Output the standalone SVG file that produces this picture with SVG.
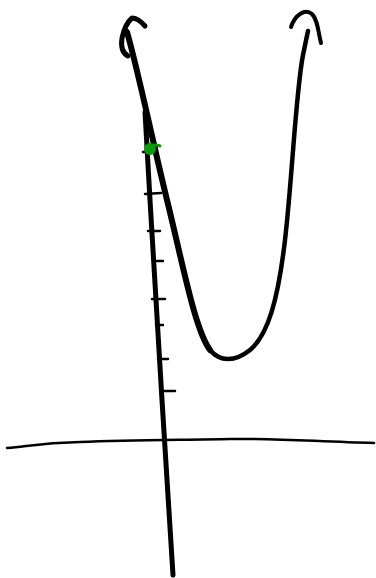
<svg xmlns="http://www.w3.org/2000/svg" width="376" height="578" viewBox="0 0 376 578">
<style>
.ink{fill:none;stroke:#000;stroke-linecap:round;stroke-linejoin:round}
</style>
<rect width="376" height="578" fill="#fff"/>
<g id="axes">
<path class="ink" stroke-width="2.5" d="M7,448 C30,446 40,443 80,442 C130,440 180,440 230,439 C280,438 320,442 374,443"/>
<path class="ink" stroke-width="5" d="M145,112 L150,200 L162,400 L173,575"/>
</g>
<g id="ticks" class="ink" stroke-width="2.5">
<path d="M143,152 L148,152"/>
<path d="M145,194 L161,193"/>
<path d="M148,231 L160,231"/>
<path d="M157,261 L163,261"/>
<path d="M152,299 L165,299"/>
<path d="M156,325 L163,325"/>
<path d="M158,359 L168,359"/>
<path d="M162,391 L175,391"/>
</g>
<g id="curve">
<path class="ink" stroke-width="5" d="M145,26 Q138,18 132,18 Q125,24 122,38 Q120,52 128,56"/>
<path class="ink" stroke-width="6" d="M127,32 C138,70 150,130 167,200 C183,265 195,330 210,350"/>
<path class="ink" stroke-width="4.5" d="M210,350 C220,362 235,362 250,350 C268,335 278,300 285,240 C292,180 296,90 303,55 L308,31"/>
<path class="ink" stroke-width="4" d="M291,27 C295,15 305,8 312,14 C318,20 318,32 321,43"/>
</g>
<g id="point">
<circle cx="150" cy="149" r="6" fill="#0b9a0b"/>
<path d="M151,146 Q155,144 160,146" fill="none" stroke="#0b9a0b" stroke-width="3" stroke-linecap="round"/>
</g>
</svg>
